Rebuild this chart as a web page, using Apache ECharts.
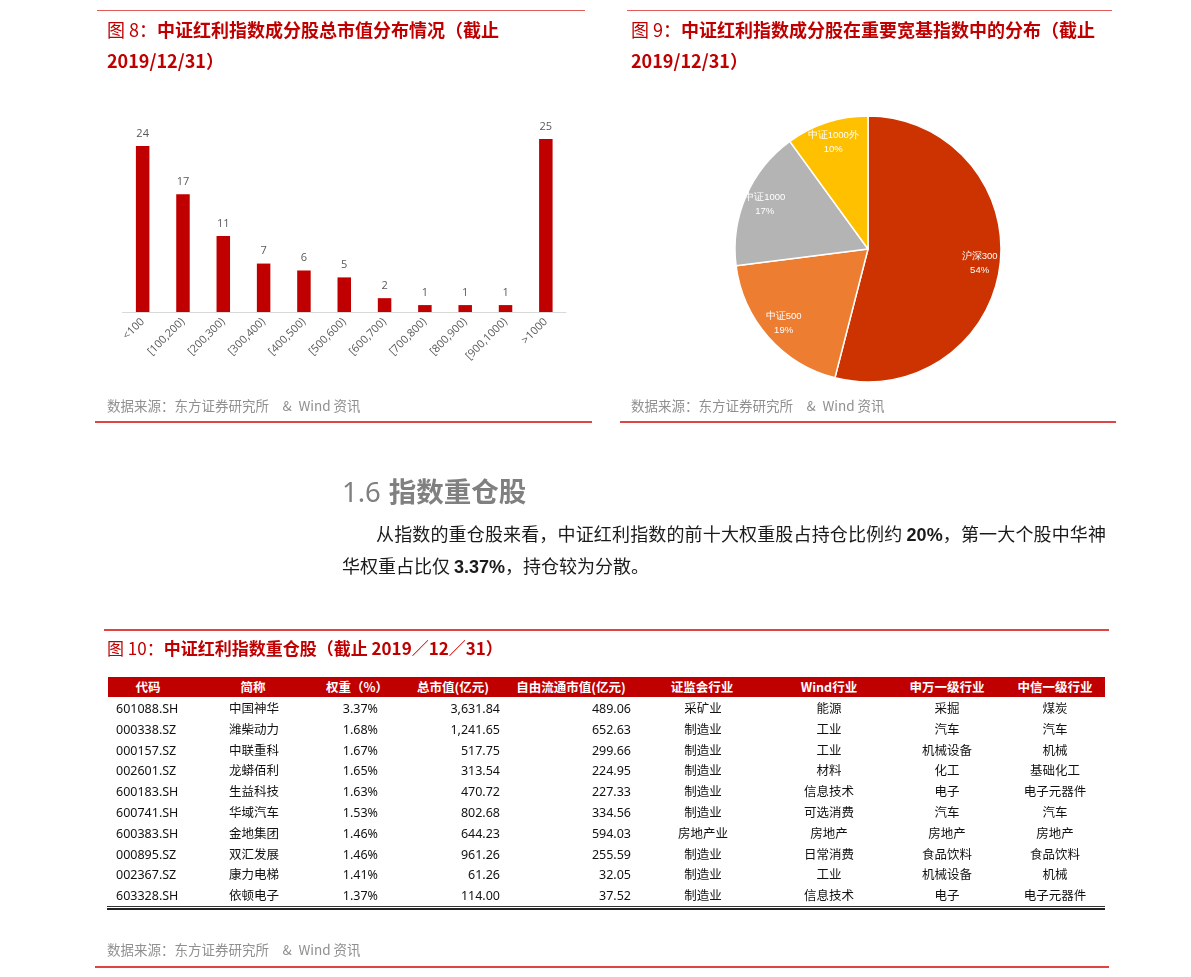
<!DOCTYPE html>
<html>
<head>
<meta charset="utf-8">
<title>中证红利指数</title>
<script src="https://cdn.jsdelivr.net/npm/echarts@6/dist/echarts.min.js"></script>
<style>
body { margin: 0; background: #fff; font-family: "Noto Sans CJK SC", sans-serif; }
#page { position: relative; width: 1191px; height: 977px; overflow: hidden; }
#chart { position: absolute; left: 0; top: 0; width: 1191px; height: 977px; }
.abs { position: absolute; white-space: nowrap; }
.hr { position: absolute; }
.hr.top { height: 1px; background: #e25b5b; }
.hr.bottom { height: 2px; background: #e04545; }
.title { color: #c00000; font-size: 18px; font-weight: bold; line-height: 31px; }
.title .tag { font-weight: normal; }
.source { color: #909090; font-size: 13.5px; line-height: 18px; }
.h2 { color: #808080; font-size: 27.5px; line-height: 34px; font-weight: bold; }
.h2 .num { font-family: "Noto Sans", sans-serif; font-weight: normal; margin-right: 8px; }
.para { color: #1a1a1a; font-size: 18px; line-height: 32px; }
.para b { font-family: "Liberation Sans", sans-serif; }
.th { color: #fff; font-size: 12.5px; font-weight: bold; line-height: 20px; }
.td { color: #111; font-size: 12.5px; line-height: 20px; font-family: "Noto Sans", "Noto Sans CJK SC", sans-serif; }
</style>
</head>
<body>
<div id="page">
  <div id="chart"></div>

  <div class="hr top" style="left:97px;top:10px;width:488px"></div>
  <div class="abs title" style="left:107px;top:14px">
    <span class="tag">图 8：</span>中证红利指数成分股总市值分布情况（截止<br>2019/12/31）
  </div>
  <div class="abs source" style="left:107px;top:396px">数据来源：东方证券研究所&emsp;&amp;&ensp;Wind 资讯</div>
  <div class="hr bottom" style="left:95px;top:421px;width:497px"></div>

  <div class="hr top" style="left:627px;top:10px;width:485px"></div>
  <div class="abs title" style="left:631px;top:14px">
    <span class="tag">图 9：</span>中证红利指数成分股在重要宽基指数中的分布（截止<br>2019/12/31）
  </div>
  <div class="abs source" style="left:631px;top:396px">数据来源：东方证券研究所&emsp;&amp;&ensp;Wind 资讯</div>
  <div class="hr bottom" style="left:620px;top:421px;width:496px"></div>

  <div class="abs h2" style="left:342px;top:473px"><span class="num">1.6</span>指数重仓股</div>
  <div class="abs para" style="left:376px;top:517px;width:730px;text-align:justify;text-align-last:justify">从指数的重仓股来看，中证红利指数的前十大权重股占持仓比例约 <b>20%</b>，第一大个股中华神</div>
  <div class="abs para" style="left:342px;top:549px">华权重占比仅 <b>3.37%</b>，持仓较为分散。</div>

  <div class="hr bottom" style="left:104px;top:629px;width:1005px"></div>
  <div class="abs title" style="left:107px;top:632px;font-size:17px"><span class="tag">图 10：</span>中证红利指数重仓股（截止 2019／12／31）</div>
  <div id="table"></div>
  <div class="abs source" style="left:107px;top:940px">数据来源：东方证券研究所&emsp;&amp;&ensp;Wind 资讯</div>
  <div class="hr bottom" style="left:95px;top:966px;width:1014px"></div>
</div>

<script>
// 图8 总市值分布（亿元）
const mcapBins = ['<100', '[100,200)', '[200,300)', '[300,400)', '[400,500)', '[500,600)',
  '[600,700)', '[700,800)', '[800,900)', '[900,1000)', '>1000'];
const mcapCounts = [24, 17, 11, 7, 6, 5, 2, 1, 1, 1, 25];

// 图9 宽基指数分布
const indexNames = ['沪深300', '中证500', '中证1000', '中证1000外'];
const indexShares = [54, 19, 17, 10];
const indexColors = ['#cc3300', '#ed7d31', '#b4b4b4', '#ffc000'];

// 图10 重仓股
const headers = ['代码', '简称', '权重（%）', '总市值(亿元)', '自由流通市值(亿元)', '证监会行业', 'Wind行业', '申万一级行业', '中信一级行业'];
const codes = ['601088.SH', '000338.SZ', '000157.SZ', '002601.SZ', '600183.SH', '600741.SH', '600383.SH', '000895.SZ', '002367.SZ', '603328.SH'];
const names = ['中国神华', '潍柴动力', '中联重科', '龙蟒佰利', '生益科技', '华域汽车', '金地集团', '双汇发展', '康力电梯', '依顿电子'];
const weights = [3.37, 1.68, 1.67, 1.65, 1.63, 1.53, 1.46, 1.46, 1.41, 1.37];
const totalCap = [3631.84, 1241.65, 517.75, 313.54, 470.72, 802.68, 644.23, 961.26, 61.26, 114.00];
const floatCap = [489.06, 652.63, 299.66, 224.95, 227.33, 334.56, 594.03, 255.59, 32.05, 37.52];
const csrcInd = ['采矿业', '制造业', '制造业', '制造业', '制造业', '制造业', '房地产业', '制造业', '制造业', '制造业'];
const windInd = ['能源', '工业', '工业', '材料', '信息技术', '可选消费', '房地产', '日常消费', '工业', '信息技术'];
const swInd = ['采掘', '汽车', '机械设备', '化工', '电子', '汽车', '房地产', '食品饮料', '机械设备', '电子'];
const citicInd = ['煤炭', '汽车', '机械', '基础化工', '电子元器件', '汽车', '房地产', '食品饮料', '机械', '电子元器件'];

const pieData = indexNames.map((n, i) => ({ name: n, value: indexShares[i], itemStyle: { color: indexColors[i] } }));

const option = {
  animation: false,
  grid: { left: 122.5, right: 1191 - 566, top: 139, bottom: 977 - 312, outerBoundsMode: 'none' },
  xAxis: {
    type: 'category',
    data: mcapBins,
    axisLine: { lineStyle: { color: '#d9d9d9' } },
    axisTick: { show: false },
    axisLabel: { interval: 0, rotate: 45, margin: 8, color: '#595959', fontSize: 11, fontFamily: 'Open Sans' }
  },
  yAxis: { type: 'value', min: 0, max: 25, show: false },
  series: [
    {
      type: 'bar',
      data: mcapCounts,
      barWidth: 13.5,
      itemStyle: { color: '#c00000' },
      label: { show: true, position: 'top', distance: 7, color: '#595959', fontSize: 11, fontFamily: 'Open Sans' }
    },
    {
      type: 'pie',
      center: [868, 249],
      radius: [0, 133],
      startAngle: 90,
      clockwise: true,
      data: pieData,
      label: { show: false },
      labelLine: { show: false },
      itemStyle: { borderColor: '#fff', borderWidth: 1.5 },
      emphasis: { disabled: true }
    },
    {
      // 透明外环，只用来把标签放在靠外的位置
      type: 'pie',
      center: [868, 249],
      radius: [86, 133],
      startAngle: 90,
      clockwise: true,
      silent: true,
      data: indexNames.map((n, i) => ({ name: n, value: indexShares[i] })),
      itemStyle: { color: 'transparent', borderWidth: 0 },
      label: { show: true, position: 'inside', formatter: '{b}\n{d}%', color: '#fff', fontSize: 9.5, lineHeight: 14 },
      labelLine: { show: false },
      emphasis: { disabled: true }
    }
  ]
};

const chart = echarts.init(document.getElementById('chart'));
chart.setOption(option);

// 表格
const fmt2 = v => v.toLocaleString('en-US', { minimumFractionDigits: 2, maximumFractionDigits: 2 });
const columns = [
  codes, names, weights.map(v => v.toFixed(2) + '%'), totalCap.map(fmt2), floatCap.map(fmt2),
  csrcInd, windInd, swInd, citicInd
];
// 表头中心x，数据锚点x，对齐方式
const colLayout = [
  [148, 116, 'left'], [253, 229, 'left'], [357, 378, 'right'], [453, 500, 'right'], [571, 631, 'right'],
  [702, 703, 'center'], [829, 829, 'center'], [947, 947, 'center'], [1055, 1055, 'center']
];
const shift = { left: '0', right: '-100%', center: '-50%' };
let html = '<div class="abs" style="left:108px;top:677px;width:997px;height:20px;background:#c00000"></div>';
headers.forEach((h, c) => {
  html += `<div class="abs th" style="left:${colLayout[c][0]}px;top:677px;transform:translateX(-50%)">${h}</div>`;
});
codes.forEach((_, r) => {
  const top = 699 + r * 20.8;
  columns.forEach((col, c) => {
    const [, x, al] = colLayout[c];
    html += `<div class="abs td" style="left:${x}px;top:${top}px;transform:translateX(${shift[al]})">${col[r]}</div>`;
  });
});
html += '<div class="abs" style="left:107px;top:906px;width:998px;height:1px;background:#333"></div>';
html += '<div class="abs" style="left:107px;top:908px;width:998px;height:2px;background:#222"></div>';
document.getElementById('table').innerHTML = html;
</script>
</body>
</html>
